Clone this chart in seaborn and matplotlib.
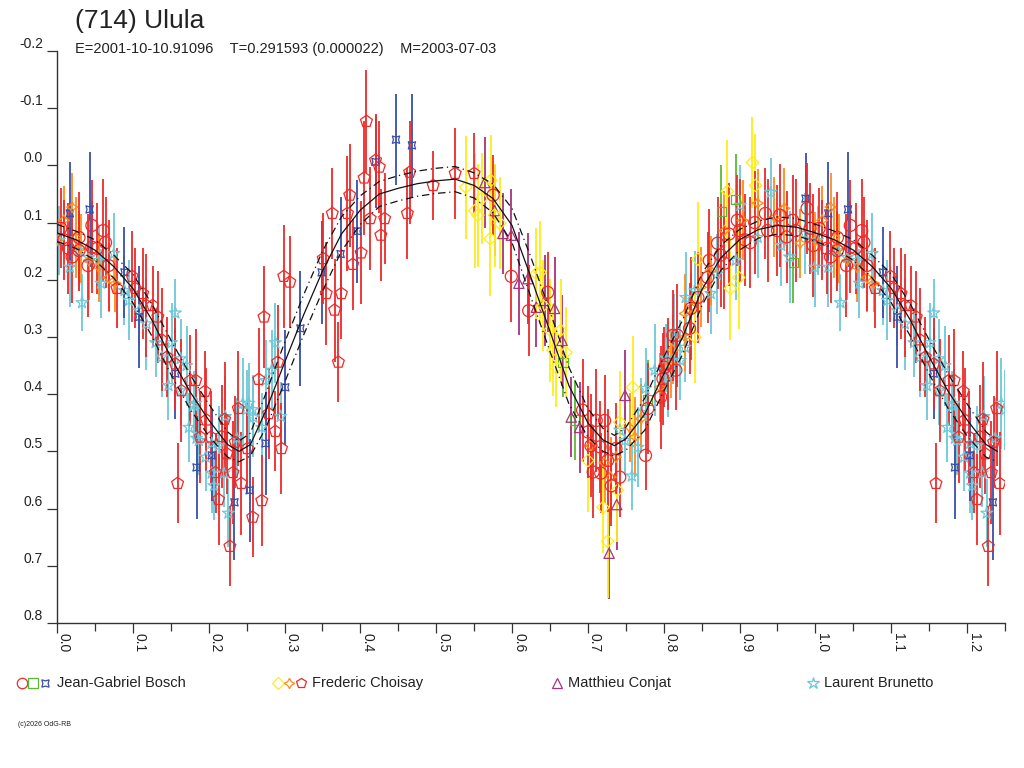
import numpy as np
import pandas as pd
import seaborn as sns
import matplotlib
matplotlib.use("Agg")
import matplotlib.pyplot as plt
from matplotlib.lines import Line2D

# lightcurve (714) Ulula, points as (phase, mag, err)

bosch_circle = [
    (0.005, 0.110, 0.07), (0.009, 0.130, 0.07), (0.015, 0.145, 0.08), (0.020, 0.160, 0.08),
    (0.029, 0.126, 0.08), (0.029, 0.149, 0.07), (0.041, 0.175, 0.09), (0.046, 0.105, 0.08),
    (0.046, 0.143, 0.08), (0.053, 0.145, 0.08), (0.061, 0.114, 0.09), (0.064, 0.135, 0.08),
    (0.068, 0.175, 0.08),
    (0.575, 0.052, 0.07), (0.599, 0.194, 0.08), (0.622, 0.254, 0.08), (0.647, 0.222, 0.07),
    (0.693, 0.428, 0.09), (0.700, 0.466, 0.08), (0.704, 0.490, 0.09), (0.707, 0.536, 0.08),
    (0.711, 0.446, 0.09), (0.716, 0.492, 0.08), (0.717, 0.538, 0.07), (0.722, 0.446, 0.08),
    (0.726, 0.516, 0.09), (0.731, 0.560, 0.07), (0.737, 0.495, 0.08), (0.742, 0.545, 0.07),
    (0.776, 0.507, 0.06), (0.779, 0.425, 0.08), (0.796, 0.405, 0.09), (0.799, 0.373, 0.08),
    (0.801, 0.353, 0.07), (0.805, 0.347, 0.08), (0.812, 0.297, 0.08), (0.816, 0.358, 0.07),
    (0.818, 0.297, 0.09), (0.834, 0.285, 0.08), (0.836, 0.250, 0.09), (0.845, 0.231, 0.08),
    (0.858, 0.196, 0.08), (0.860, 0.166, 0.09), (0.871, 0.136, 0.08), (0.875, 0.157, 0.09),
    (0.880, 0.171, 0.08), (0.886, 0.120, 0.09), (0.897, 0.096, 0.08), (0.900, 0.114, 0.09),
    (0.907, 0.130, 0.08), (0.914, 0.135, 0.08), (0.920, 0.100, 0.09), (0.934, 0.084, 0.08),
    (0.937, 0.114, 0.09), (0.950, 0.114, 0.08), (0.953, 0.087, 0.09), (0.962, 0.125, 0.08),
    (0.970, 0.096, 0.08), (0.974, 0.114, 0.09), (0.989, 0.075, 0.08), (0.993, 0.110, 0.08),
    (0.997, 0.140, 0.09),
]
bosch_square = [
    (0.667, 0.345, 0.06), (0.683, 0.445, 0.07), (0.779, 0.410, 0.07),
    (0.876, 0.080, 0.08), (0.895, 0.060, 0.08), (0.971, 0.170, 0.07),
]
bosch_blob = [
    (0.017, 0.084, 0.09), (0.043, 0.077, 0.10), (0.089, 0.187, 0.08), (0.108, 0.265, 0.09),
    (0.156, 0.364, 0.08), (0.184, 0.528, 0.09), (0.204, 0.507, 0.08), (0.234, 0.589, 0.10),
    (0.254, 0.568, 0.09), (0.275, 0.486, 0.09), (0.301, 0.388, 0.10), (0.321, 0.285, 0.10),
    (0.349, 0.187, 0.09), (0.374, 0.155, 0.10), (0.396, 0.115, 0.09), (0.420, -0.006, 0.08),
    (0.447, -0.045, 0.08), (0.468, -0.035, 0.09), (0.987, 0.058, 0.08),
]
choisay_diamond = [
    (0.539, 0.038, 0.09), (0.551, 0.079, 0.10), (0.555, 0.087, 0.09), (0.560, 0.058, 0.08),
    (0.572, 0.026, 0.08), (0.577, 0.087, 0.09), (0.571, 0.128, 0.10), (0.584, 0.101, 0.08),
    (0.632, 0.189, 0.08), (0.637, 0.187, 0.09), (0.641, 0.245, 0.08), (0.650, 0.288, 0.09),
    (0.654, 0.323, 0.08), (0.658, 0.353, 0.07), (0.664, 0.288, 0.09), (0.671, 0.327, 0.08),
    (0.700, 0.516, 0.09), (0.720, 0.598, 0.08), (0.726, 0.657, 0.10), (0.739, 0.568, 0.09),
    (0.742, 0.449, 0.09), (0.759, 0.388, 0.09), (0.841, 0.300, 0.08), (0.845, 0.164, 0.10),
    (0.884, 0.045, 0.09), (0.888, 0.215, 0.09), (0.899, 0.196, 0.09), (0.917, -0.005, 0.08),
    (0.921, 0.035, 0.09),
]
choisay_star4 = [
    (0.000, 0.131, 0.05), (0.009, 0.096, 0.06), (0.020, 0.073, 0.06), (0.025, 0.126, 0.07),
    (0.031, 0.145, 0.06), (0.042, 0.166, 0.07), (0.055, 0.178, 0.06), (0.068, 0.196, 0.06),
    (0.077, 0.206, 0.05),
    (0.704, 0.490, 0.06), (0.722, 0.520, 0.07), (0.730, 0.545, 0.07), (0.737, 0.510, 0.06),
    (0.755, 0.458, 0.06), (0.762, 0.475, 0.07), (0.770, 0.443, 0.06), (0.795, 0.388, 0.06),
    (0.809, 0.347, 0.06), (0.812, 0.323, 0.06), (0.828, 0.300, 0.06), (0.828, 0.259, 0.07),
    (0.836, 0.248, 0.06), (0.849, 0.213, 0.07), (0.862, 0.184, 0.06), (0.880, 0.114, 0.07),
    (0.904, 0.096, 0.07), (0.924, 0.066, 0.06), (0.946, 0.091, 0.07), (0.959, 0.075, 0.07),
    (0.980, 0.136, 0.06),
]
choisay_pentagon = [
    (0.079, 0.215, 0.07), (0.099, 0.194, 0.08), (0.103, 0.215, 0.07), (0.113, 0.224, 0.08),
    (0.118, 0.245, 0.09), (0.126, 0.245, 0.07), (0.133, 0.265, 0.08), (0.138, 0.305, 0.09),
    (0.145, 0.335, 0.07), (0.156, 0.347, 0.08), (0.159, 0.556, 0.07), (0.164, 0.394, 0.09),
    (0.176, 0.376, 0.08), (0.183, 0.376, 0.09), (0.189, 0.475, 0.08), (0.195, 0.395, 0.07),
    (0.197, 0.445, 0.09), (0.203, 0.475, 0.08), (0.209, 0.537, 0.07), (0.213, 0.584, 0.08),
    (0.217, 0.474, 0.09), (0.221, 0.444, 0.10), (0.224, 0.504, 0.07), (0.228, 0.666, 0.07),
    (0.232, 0.537, 0.09), (0.235, 0.484, 0.08), (0.239, 0.425, 0.10), (0.243, 0.556, 0.09),
    (0.251, 0.495, 0.08), (0.258, 0.615, 0.07), (0.266, 0.374, 0.09), (0.270, 0.586, 0.08),
    (0.273, 0.265, 0.09), (0.279, 0.434, 0.08), (0.288, 0.465, 0.07), (0.291, 0.344, 0.10),
    (0.296, 0.495, 0.08), (0.299, 0.194, 0.09), (0.307, 0.204, 0.08), (0.351, 0.163, 0.08),
    (0.355, 0.224, 0.09), (0.363, 0.084, 0.08), (0.366, 0.253, 0.09), (0.371, 0.344, 0.07),
    (0.375, 0.224, 0.08), (0.383, 0.084, 0.10), (0.386, 0.052, 0.09), (0.390, 0.173, 0.08),
    (0.401, 0.153, 0.09), (0.405, 0.022, 0.10), (0.408, -0.077, 0.09), (0.413, 0.093, 0.09),
    (0.420, -0.009, 0.08), (0.425, 0.003, 0.08), (0.427, 0.122, 0.08), (0.432, 0.093, 0.08),
    (0.462, 0.084, 0.08), (0.465, 0.012, 0.09), (0.496, 0.035, 0.06), (0.525, 0.014, 0.08),
    (0.550, 0.014, 0.07),
]
conjat_triangle = [
    (0.564, 0.030, 0.08), (0.577, 0.079, 0.08), (0.588, 0.119, 0.07), (0.599, 0.122, 0.08),
    (0.609, 0.206, 0.09), (0.621, 0.198, 0.08), (0.632, 0.248, 0.07), (0.643, 0.236, 0.08),
    (0.656, 0.250, 0.09), (0.666, 0.306, 0.08), (0.678, 0.440, 0.07), (0.689, 0.458, 0.08),
    (0.728, 0.678, 0.08), (0.738, 0.593, 0.08), (0.749, 0.402, 0.08),
]
brunetto_star = [
    (0.003, 0.131, 0.06), (0.017, 0.178, 0.07), (0.029, 0.149, 0.07), (0.033, 0.240, 0.05),
    (0.042, 0.161, 0.07), (0.055, 0.166, 0.06), (0.058, 0.206, 0.06), (0.075, 0.154, 0.07),
    (0.089, 0.219, 0.06), (0.095, 0.236, 0.07), (0.108, 0.254, 0.06), (0.118, 0.277, 0.08),
    (0.130, 0.310, 0.06), (0.138, 0.335, 0.07), (0.147, 0.385, 0.06), (0.151, 0.310, 0.07),
    (0.156, 0.258, 0.06), (0.163, 0.338, 0.07), (0.163, 0.394, 0.06), (0.171, 0.350, 0.07),
    (0.174, 0.458, 0.06), (0.180, 0.420, 0.06), (0.183, 0.416, 0.06), (0.184, 0.477, 0.07),
    (0.187, 0.481, 0.06), (0.196, 0.510, 0.06), (0.204, 0.486, 0.06), (0.204, 0.538, 0.07),
    (0.207, 0.560, 0.06), (0.213, 0.490, 0.07), (0.220, 0.538, 0.06), (0.222, 0.439, 0.07),
    (0.226, 0.608, 0.06), (0.237, 0.477, 0.07), (0.245, 0.416, 0.08), (0.250, 0.427, 0.07),
    (0.253, 0.416, 0.07), (0.258, 0.427, 0.06), (0.259, 0.440, 0.07), (0.270, 0.458, 0.06),
    (0.275, 0.376, 0.07), (0.283, 0.358, 0.07), (0.288, 0.310, 0.07), (0.295, 0.439, 0.06),
    (0.742, 0.463, 0.06), (0.749, 0.481, 0.06), (0.758, 0.543, 0.06), (0.766, 0.493, 0.07),
    (0.770, 0.432, 0.06), (0.776, 0.390, 0.07), (0.788, 0.358, 0.08), (0.803, 0.337, 0.06),
    (0.805, 0.370, 0.07), (0.814, 0.294, 0.07), (0.822, 0.341, 0.07), (0.828, 0.318, 0.06),
    (0.829, 0.231, 0.08), (0.841, 0.219, 0.07), (0.862, 0.224, 0.07), (0.870, 0.190, 0.07),
    (0.895, 0.166, 0.07), (0.901, 0.070, 0.07), (0.924, 0.126, 0.07), (0.941, 0.047, 0.06),
    (0.955, 0.140, 0.07), (0.966, 0.160, 0.08), (0.986, 0.119, 0.07), (0.999, 0.178, 0.07),
]

# fitted curve and its uncertainty envelope
fit_phase = [0.000, 0.025, 0.050, 0.075, 0.100, 0.125, 0.150, 0.175, 0.200, 0.225, 0.240,
             0.255, 0.275, 0.300, 0.325, 0.350, 0.375, 0.400, 0.425, 0.450, 0.475, 0.500,
             0.525, 0.550, 0.575, 0.600, 0.625, 0.650, 0.675, 0.700, 0.720, 0.735, 0.750,
             0.775, 0.800, 0.825, 0.850, 0.875, 0.900, 0.925, 0.950, 0.975, 1.000]
fit_mag = [0.118, 0.130, 0.148, 0.177, 0.215, 0.270, 0.335, 0.395, 0.445, 0.488, 0.500,
           0.488, 0.430, 0.345, 0.262, 0.185, 0.120, 0.078, 0.050, 0.040, 0.032, 0.027,
           0.024, 0.035, 0.058, 0.105, 0.196, 0.290, 0.385, 0.450, 0.480, 0.490, 0.478,
           0.435, 0.365, 0.300, 0.218, 0.162, 0.130, 0.112, 0.105, 0.108, 0.118]
fit_upper = [0.103, 0.115, 0.130, 0.157, 0.190, 0.242, 0.305, 0.365, 0.417, 0.466, 0.482,
             0.468, 0.400, 0.310, 0.227, 0.150, 0.090, 0.053, 0.028, 0.018, 0.010, 0.005,
             0.002, 0.013, 0.033, 0.075, 0.161, 0.255, 0.353, 0.425, 0.460, 0.472, 0.458,
             0.407, 0.335, 0.270, 0.190, 0.140, 0.112, 0.097, 0.090, 0.093, 0.103]
fit_lower = [0.133, 0.145, 0.166, 0.197, 0.240, 0.298, 0.365, 0.425, 0.473, 0.510, 0.518,
             0.508, 0.460, 0.380, 0.297, 0.220, 0.150, 0.103, 0.072, 0.062, 0.054, 0.049,
             0.046, 0.057, 0.083, 0.135, 0.231, 0.325, 0.417, 0.475, 0.500, 0.508, 0.498,
             0.463, 0.395, 0.330, 0.246, 0.184, 0.148, 0.127, 0.120, 0.123, 0.133]

y_ticks = [-0.2, -0.1, 0.0, 0.1, 0.2, 0.3, 0.4, 0.5, 0.6, 0.7, 0.8]
y_labels = ["-0.2", "-0.1", "0.0", "0.1", "0.2", "0.3", "0.4", "0.5", "0.6", "0.7", "0.8"]
x_ticks = [0.0, 0.1, 0.2, 0.3, 0.4, 0.5, 0.6, 0.7, 0.8, 0.9, 1.0, 1.1, 1.2]
x_labels = ["0.0", "0.1", "0.2", "0.3", "0.4", "0.5", "0.6", "0.7", "0.8", "0.9", "1.0", "1.1", "1.2"]
x_minor = [0.05, 0.15, 0.25, 0.35, 0.45, 0.55, 0.65, 0.75, 0.85, 0.95, 1.05, 1.15, 1.25]

RED = "#ee2a2a"
CYAN = "#6cc8d8"
BLUE = "#3a4ea8"
ORANGE = "#ff8c1a"
YELLOW = "#ffec1a"
PURPLE = "#a8337e"
GREEN = "#5cb833"
TXT = "#222222"


def wrap(points):
    # lightcurve shown past phase 1: first quarter is drawn again
    rows = list(points) + [(p + 1, m, e) for p, m, e in points if p <= 0.25]
    return pd.DataFrame(rows, columns=["phase", "mag", "err"])


sns.set_style("white")
plt.rcParams["font.family"] = ["Liberation Sans", "DejaVu Sans"]
plt.rcParams["axes.unicode_minus"] = False

fig = plt.figure(figsize=(10.24, 7.68), dpi=100)
ax = fig.add_axes([57 / 1024, 1 - 623 / 768, 948 / 1024, 572 / 768])

series = [
    (brunetto_star, CYAN, "*", 80),
    (bosch_blob, BLUE, (4, 1, 45), 55),
    (bosch_square, GREEN, "s", 45),
    (conjat_triangle, PURPLE, "^", 55),
    (choisay_diamond, YELLOW, "D", 40),
    (choisay_star4, ORANGE, (4, 1, 0), 65),
    (bosch_circle, RED, "o", 75),
    (choisay_pentagon, RED, "p", 80),
]

for pts, col, mk, size in series:
    df = wrap(pts)
    ax.vlines(df["phase"], df["mag"] - df["err"], df["mag"] + df["err"],
              colors=col, linewidth=1.3, zorder=2)
    sns.scatterplot(data=df, x="phase", y="mag", ax=ax, marker=mk, s=size,
                    facecolor="none", edgecolor=col, linewidth=0.9, zorder=3,
                    legend=False)

# curves
fit = wrap(list(zip(fit_phase, fit_mag, fit_upper)))
fit["lower"] = wrap(list(zip(fit_phase, fit_mag, fit_lower)))["err"]
sns.lineplot(x=fit["phase"], y=fit["mag"], ax=ax, color="#111111", linewidth=0.9,
             sort=False, estimator=None, zorder=5)
for col in ["err", "lower"]:
    sns.lineplot(x=fit["phase"], y=fit[col], ax=ax, color="#111111", linewidth=0.9,
                 linestyle=(0, (6, 3, 1, 3)), sort=False, estimator=None, zorder=5)

ax.set_xlim(0, 1.25)
ax.set_ylim(0.8, -0.2)
ax.set_xlabel("")
ax.set_ylabel("")
ax.set_facecolor("white")
for s in ["top", "right"]:
    ax.spines[s].set_visible(False)
for s in ["left", "bottom"]:
    ax.spines[s].set_color("#333333")
    ax.spines[s].set_linewidth(1.0)

ax.set_yticks(y_ticks)
ax.set_yticklabels(y_labels)
ax.set_xticks(x_ticks)
ax.set_xticklabels(x_labels)
ax.set_xticks(x_minor, minor=True)
ax.tick_params(axis="y", direction="out", length=7, width=0.9, pad=3,
               labelsize=10, colors="#333333", labelcolor=TXT, left=True)
ax.tick_params(axis="x", which="major", direction="out", length=7, width=0.9, pad=0,
               labelsize=10, colors="#333333", labelcolor=TXT, bottom=True)
ax.tick_params(axis="x", which="minor", direction="out", length=6, width=0.9,
               colors="#333333", bottom=True)
for lab in ax.get_yticklabels():
    lab.set_va("bottom")
for lab in ax.get_xticklabels():
    lab.set_rotation(-90)
    lab.set_rotation_mode("anchor")
    lab.set_ha("left")
    lab.set_va("bottom")

# titles
fig.text(75 / 1024, 1 - 21 / 768, "(714) Ulula", fontsize=19, color=TXT, va="center")
fig.text(75 / 1024, 1 - 49 / 768,
         "E=2001-10-10.91096    T=0.291593 (0.000022)    M=2003-07-03",
         fontsize=10.5, color=TXT, va="center")

# legend row
ly = 1 - 683 / 768
legend_items = [
    (57, "Jean-Gabriel Bosch", [(22, RED, "o"), (33, GREEN, "s"), (45, BLUE, (4, 1, 45))]),
    (312, "Frederic Choisay", [(278, YELLOW, "D"), (289, ORANGE, (4, 1, 0)), (301, RED, "p")]),
    (568, "Matthieu Conjat", [(557, PURPLE, "^")]),
    (824, "Laurent Brunetto", [(813, CYAN, "*")]),
]
for tx, name, marks in legend_items:
    fig.text(tx / 1024, ly, name, fontsize=10.5, color=TXT, va="center")
    for mx, col, mk in marks:
        ms = 9 if mk == "*" else 7.5
        if mk == "D":
            ms = 6
        fig.add_artist(Line2D([mx / 1024], [ly], transform=fig.transFigure, marker=mk,
                              markersize=ms, markerfacecolor="none",
                              markeredgecolor=col, markeredgewidth=0.9, linestyle="none"))

fig.text(18 / 1024, 1 - 725 / 768, "(c)2026 OdG-RB", fontsize=5, color=TXT, va="center")

fig.savefig("out.png", dpi=100, facecolor="white")
plt.close(fig)
